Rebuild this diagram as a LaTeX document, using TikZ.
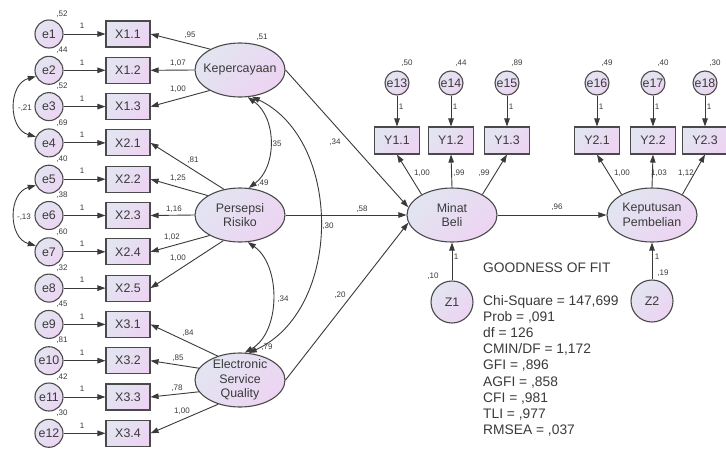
\documentclass[tikz,border=0pt]{standalone}
\usepackage{fontspec}
\setmainfont{Liberation Sans}
\usetikzlibrary{arrows.meta,shapes.geometric}
\definecolor{ln}{HTML}{3A3A3A}
\definecolor{bd}{HTML}{4A4A4A}
\definecolor{fa}{HTML}{E2E5F1}
\definecolor{fb}{HTML}{EDD4F2}
\begin{document}
\begin{tikzpicture}[x=1pt,y=1pt,
 every node/.style={inner sep=0pt, text=ln},
 shd/.style={draw=bd, line width=1.1pt, top color=fa, bottom color=fb, shading angle=45},
 obs/.style={shd, rectangle, minimum width=44pt, minimum height=26pt, font=\fontsize{12.4}{14}\selectfont},
 err/.style={shd, circle, minimum size=28pt, font=\fontsize{12.4}{14}\selectfont},
 errs/.style={shd, circle, minimum size=24pt, font=\fontsize{12.4}{14}\selectfont},
 dist/.style={shd, circle, minimum size=42pt, font=\fontsize{12.4}{14}\selectfont},
 lat/.style={shd, ellipse, minimum width=90pt, minimum height=54pt},
 ltxt/.style={align=center, font=\fontsize{12.4}{14.5}\selectfont},
 arr/.style={draw=ln, line width=0.9pt, -{Triangle[length=8pt,width=5.5pt]}},
 darr/.style={draw=ln, line width=0.9pt, {Triangle[length=8pt,width=5.5pt]}-{Triangle[length=8pt,width=5.5pt]}},
 lbl/.style={font=\fontsize{8}{9}\selectfont},
 gof/.style={font=\fontsize{13.8}{16}\selectfont, anchor=base west}
]
\useasboundingbox (0,0) rectangle (726,-448);
\fill[white] (0,0) rectangle (726,-448);

% indicators X
\foreach \i/\t in {1/X1.1,2/X1.2,3/X1.3,4/X2.1,5/X2.2,6/X2.3,7/X2.4,8/X2.5,9/X3.1,10/X3.2,11/X3.3,12/X3.4}{
  \node[err] (e\i) at (49,{-34-36.3*(\i-1)}) {e\i};
  \node[obs] (x\i) at (128,{-34-36.3*(\i-1)}) {\t};
  \draw[arr] (e\i) -- (x\i);
}

% latent exogenous
\node[lat] (Kep) at (240,-70) {};
\node[ltxt] (Kept) at (Kep) {Kepercayaan};
\node[lat] (PR) at (240,-215) {};
\node[ltxt] (PRt) at (PR) {Persepsi\\Risiko};
\node[lat] (ESQ) at (240,-380) {};
\node[ltxt] (ESQt) at (ESQ) {Electronic\\Service\\Quality};

% latent endogenous
\node[lat] (MB) at (452,-215) {};
\node[ltxt] (MBt) at (MB) {Minat\\Beli};
\node[lat] (KP) at (652,-215) {};
\node[ltxt] (KPt) at (KP) {Keputusan\\Pembelian};

% loadings
\draw[arr] (Kep.145) -- (x1.east);
\draw[arr] (Kep.west) -- (x2.east);
\draw[arr] (Kep.214) -- (x3.east);
\draw[arr] (PR.122) -- (x4.east);
\draw[arr] (PR.149) -- (x5.east);
\draw[arr] (PR.west) -- (x6.east);
\draw[arr] (PR.214) -- (x7.east);
\draw[arr] (PR.237) -- (x8.east);
\draw[arr] (ESQ.133) -- (x9.east);
\draw[arr] (ESQ.164) -- (x10.east);
\draw[arr] (ESQ.196) -- (x11.east);
\draw[arr] (ESQ.228) -- (x12.east);

% Y indicators
\foreach \n/\x/\t in {13/397/Y1.1,14/451/Y1.2,15/507/Y1.3,16/597/Y2.1,17/653/Y2.2,18/705/Y2.3}{
  \node[errs] (e\n) at (\x,-83) {e\n};
  \node[obs, minimum width=45pt, minimum height=27pt] (y\n) at (\x,-140.5) {\t};
  \draw[arr] (e\n) -- (y\n);
}
\draw[arr] (MB.146) -- (y13.south);
\draw[arr] (MB.north) -- (y14.south);
\draw[arr] (MB.34) -- (y15.south);
\draw[arr] (KP.146) -- (y16.south);
\draw[arr] (KP.north) -- (y17.south);
\draw[arr] (KP.34) -- (y18.south);

% structural
\draw[arr] (Kep.east) -- (MB.170);
\draw[arr] (PR.east) -- (MB.west);
\draw[arr] (ESQ.east) -- (MB.190);
\draw[arr] (MB.east) -- (KP.west);

% disturbances
\node[dist] (Z1) at (452,-302) {Z1};
\node[dist] (Z2) at (652,-301) {Z2};
\draw[arr] (Z1) -- (MB);
\draw[arr] (Z2) -- (KP);

% covariances
\draw[darr] (Kep.-74) .. controls (277,-118) and (277,-167) .. (PR.72);
\draw[darr] (PR.-74) .. controls (281,-265) and (281,-332) .. (ESQ.80);
\draw[darr] (Kep.-66) .. controls (343,-140) and (343,-310) .. (ESQ.72);
\draw[darr] (e2.205) .. controls (8,-84) and (8,-129) .. (e4.155);
\draw[darr] (e5.205) .. controls (8,-193) and (8,-238) .. (e7.155);

% labels: error variances and fixed paths
\foreach \i/\v in {1/52,2/44,3/52,4/69,5/40,6/38,7/60,8/32,9/45,10/81,11/42,12/30}{
  \node[lbl] (ev\i) at ([shift={(13,20)}]e\i.center) {,\v};
  \node[lbl] (eo\i) at ([shift={(33,8)}]e\i.center) {1};
}
\foreach \n/\v in {13/50,14/44,15/89,16/49,17/40,18/30}{
  \node[lbl] (ev\n) at ([shift={(10,20)}]e\n.center) {,\v};
  \node[lbl] (eo\n) at ([shift={(4,-24)}]e\n.center) {1};
}
\foreach \x/\y/\t [count=\k] in {190/35/{,95},178/63/{1,07},178/89/{1,00},193/160/{,81},178/178/{1,25},174/209/{1,16},172/237/{1,02},178/258/{1,00},188/333/{,84},178/358/{,85},177/388/{,78},182/411/{1,00},335/142/{,34},362/209/{,58},340/295/{,20},557/207/{,96},276/144/{,35},283/299/{,34},328/226/{,30},25/108/{-,21},24/217/{-,13},262/37/{,51},263/183/{,49},267/347/{,79},433/276/{,10},663/273/{,19},456/257/{1},657/257/{1},422/173/{1,00},459/173/{,99},484/173/{,99},622/173/{1,00},659/173/{1,03},686/173/{1,12}}{
  \node[lbl] (L\k) at (\x,-\y) {\t};
}

% goodness of fit
\node[gof] (g0) at (483,-272) {GOODNESS OF FIT};
\foreach \t [count=\k from 0] in {Chi-Square = 147{,}699, Prob = {,}091, df = 126, CMIN/DF = 1{,}172, GFI = {,}896, AGFI = {,}858, CFI = {,}981, TLI = {,}977, RMSEA = {,}037}{
  \node[gof] (g\k a) at (483,{-305-16.2*\k}) {\t};
}
\end{tikzpicture}
\end{document}
